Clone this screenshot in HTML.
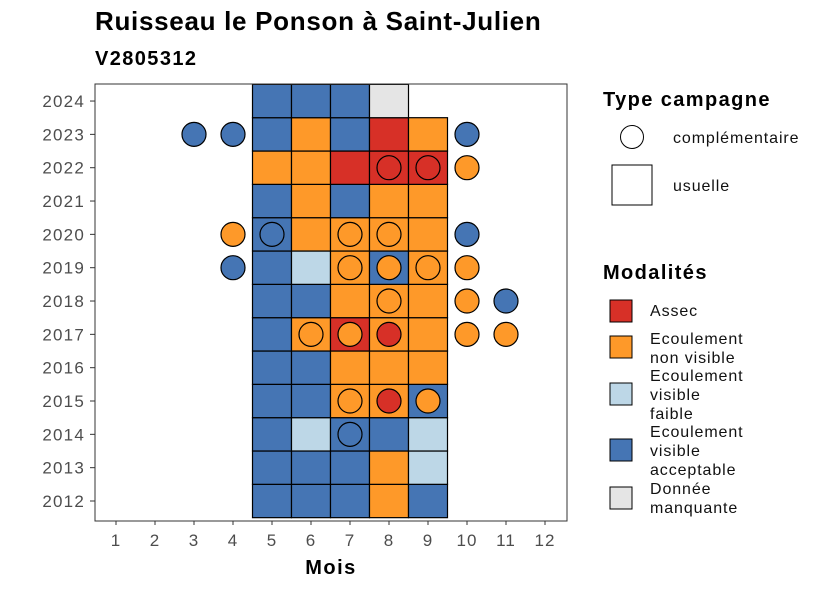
<!DOCTYPE html>
<html><head><meta charset="utf-8"><style>
body{margin:0;background:#fff;font-family:"Liberation Sans",sans-serif}
text{font-family:"Liberation Sans",sans-serif}
.lg{font-size:16px;letter-spacing:0.9px;fill:#111}
</style></head><body>
<svg width="826" height="590" xmlns="http://www.w3.org/2000/svg">
<text x="95" y="30" font-size="26" font-weight="bold" letter-spacing="0.7" fill="#000">Ruisseau le Ponson à Saint-Julien</text>
<text x="95" y="65" font-size="20" font-weight="bold" letter-spacing="1.4" fill="#000">V2805312</text>
<g id="plot"></g>
<rect x="95" y="84" width="472" height="437" fill="none" stroke="#333" stroke-width="1"/>
<text x="331" y="574" font-size="20" font-weight="bold" letter-spacing="1.5" text-anchor="middle">Mois</text>
<g>
<text x="603" y="106" font-size="20" font-weight="bold" letter-spacing="1.4">Type campagne</text>
<circle cx="632" cy="137" r="11.5" fill="#fff" stroke="#000"/>
<text x="673" y="143" class="lg">complémentaire</text>
<rect x="612" y="165" width="40" height="40" fill="#fff" stroke="#000"/>
<text x="673" y="191" class="lg">usuelle</text>
</g>
<g>
<text x="603" y="279" font-size="20" font-weight="bold" letter-spacing="1.4">Modalités</text>
<rect x="610" y="300" width="22" height="22" fill="#D73027" stroke="#000"/>
<text x="650" y="316" class="lg">Assec</text>
<rect x="610" y="336" width="22" height="22" fill="#FE9929" stroke="#000"/>
<text x="650" y="344" class="lg">Ecoulement</text><text x="650" y="363" class="lg">non visible</text>
<rect x="610" y="383" width="22" height="22" fill="#BDD7E7" stroke="#000"/>
<text x="650" y="381" class="lg">Ecoulement</text><text x="650" y="400" class="lg">visible</text><text x="650" y="419" class="lg">faible</text>
<rect x="610" y="439" width="22" height="22" fill="#4575B4" stroke="#000"/>
<text x="650" y="437" class="lg">Ecoulement</text><text x="650" y="456" class="lg">visible</text><text x="650" y="475" class="lg">acceptable</text>
<rect x="610" y="487" width="22" height="22" fill="#E5E5E5" stroke="#000"/>
<text x="650" y="494" class="lg">Donnée</text><text x="650" y="513" class="lg">manquante</text>
</g>
</svg>
<script>
const years=[2012,2013,2014,2015,2016,2017,2018,2019,2020,2021,2022,2023,2024];
const months=[1,2,3,4,5,6,7,8,9,10,11,12];
const tileMonths=[5,6,7,8,9];
const tileRows={2024:"BBBG",2023:"BOBAO",2022:"OOAAA",2021:"BOBOO",2020:"BOOOO",2019:"BLOBO",2018:"BBOOO",2017:"BOAOO",2016:"BBOOO",2015:"BBOOB",2014:"BLBBL",2013:"BBBOL",2012:"BBBOB"};
const circleMonth=[3,4,10,8,9,10,4,5,7,8,10,4,7,8,9,10,8,10,11,6,7,8,10,11,7,8,9,7];
const circleYear=[2023,2023,2023,2022,2022,2022,2020,2020,2020,2020,2020,2019,2019,2019,2019,2019,2018,2018,2018,2017,2017,2017,2017,2017,2015,2015,2015,2014];
const circleMod="BBBAAOOBOOBBOOOOOOBOOAOOOAOB";
const colors={A:"#D73027",O:"#FE9929",L:"#BDD7E7",B:"#4575B4",G:"#E5E5E5"};
const xs=m=>116+(m-1)*39;
const ys=y=>501-(y-2012)*33.33;
const NS="http://www.w3.org/2000/svg";
const g=document.getElementById('plot');
function mk(t,a){const e=document.createElementNS(NS,t);for(const k in a)e.setAttribute(k,a[k]);g.appendChild(e);return e;}
years.forEach(y=>{
  const row=tileRows[y];
  for(let i=0;i<row.length;i++){
    const r=mk('rect',{x:xs(tileMonths[i])-19.5,y:ys(y)-16.67,width:39,height:33.33,fill:colors[row[i]],stroke:'#000','stroke-width':1.2});
    
    
  }
});
circleMonth.forEach((m,i)=>{
  const c=mk('circle',{cx:xs(m),cy:ys(circleYear[i]),r:12,fill:colors[circleMod[i]],stroke:'#000','stroke-width':1.2});
  
  
});
months.forEach(m=>{
  const t=mk('line',{x1:xs(m),x2:xs(m),y1:521,y2:525,stroke:'#333'});
  
  
  const l=mk('text',{x:xs(m),y:546,'font-size':17,'letter-spacing':1,'text-anchor':'middle',fill:'#4d4d4d'});
  l.textContent=m;
  
  
});
years.forEach(y=>{
  const t=mk('line',{x1:90,x2:95,y1:ys(y),y2:ys(y),stroke:'#333'});
  
  
  const l=mk('text',{x:85,y:ys(y)+6,'font-size':17,'letter-spacing':1.2,'text-anchor':'end',fill:'#4d4d4d'});
  l.textContent=y;
  
  
});
</script>
</body></html>
